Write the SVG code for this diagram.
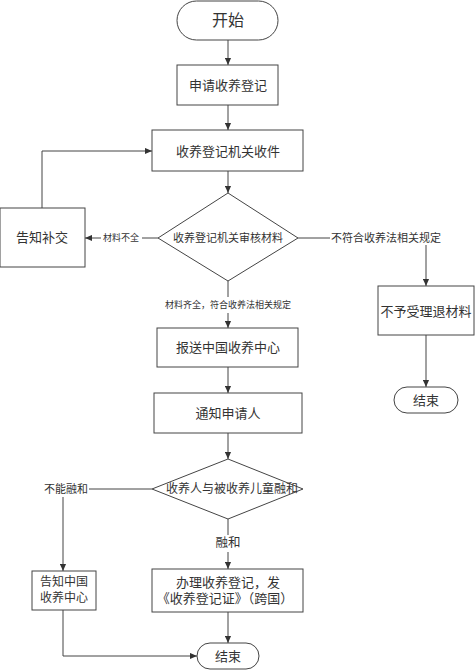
<svg xmlns="http://www.w3.org/2000/svg" width="475" height="670" viewBox="0 0 475 670">
<style>
.s{fill:#fff;stroke:#444;stroke-width:1}
.c{fill:none;stroke:#444;stroke-width:1}
text{font-family:"Liberation Serif","Noto Sans CJK SC",serif;fill:#333;text-anchor:middle;dominant-baseline:central}
.lb{fill:#fff;stroke:none}
</style>
<defs>
<marker id="a" viewBox="0 0 8 8" refX="8" refY="4" markerWidth="7" markerHeight="7" orient="auto" markerUnits="userSpaceOnUse">
<path d="M0,0.5 L8,4 L0,7.5 Z" fill="#333"/>
</marker>
</defs>
<g id="connectors">
<path class="c" d="M228,40 V65" marker-end="url(#a)"/>
<path class="c" d="M228,105 V130" marker-end="url(#a)"/>
<path class="c" d="M228,171 V193" marker-end="url(#a)"/>
<path class="c" d="M42,208 V151 H152" marker-end="url(#a)"/>
<path class="c" d="M158,238 H142 M101,238 H85" marker-end="url(#a)"/>
<path class="c" d="M298,238 H330"/>
<path class="c" d="M426,245 V286" marker-end="url(#a)"/>
<path class="c" d="M426,335 V387" marker-end="url(#a)"/>
<path class="c" d="M228,281 V297 M228,313 V328" marker-end="url(#a)"/>
<path class="c" d="M228,367 V393" marker-end="url(#a)"/>
<path class="c" d="M228,433 V459" marker-end="url(#a)"/>
<path class="c" d="M152,489 H89"/>
<path class="c" d="M63,497 V571" marker-end="url(#a)"/>
<path class="c" d="M228,519 V535 M228,552 V569" marker-end="url(#a)"/>
<path class="c" d="M228,612 V643" marker-end="url(#a)"/>
<path class="c" d="M63,610 V656 H197" marker-end="url(#a)"/>
<text x="121" y="238" font-size="9">材料不全</text>
<text x="386" y="238" font-size="11">不符合收养法相关规定</text>
<text x="228" y="305" font-size="9">材料齐全，符合收养法相关规定</text>
<text x="66" y="489" font-size="11">不能融和</text>
<text x="228" y="543" font-size="12.5">融和</text>
</g>
<g id="start"><rect class="s" x="177" y="1" width="101" height="39" rx="19.5"/><text x="228" y="20" font-size="16">开始</text></g>
<g id="apply"><rect class="s" x="177" y="65" width="101" height="40"/><text x="228" y="85" font-size="13">申请收养登记</text></g>
<g id="receive"><rect class="s" x="152" y="130" width="151" height="41"/><text x="228" y="151" font-size="13">收养登记机关收件</text></g>
<g id="review"><polygon class="s" points="228,193 298,238 228,281 158,238"/><text x="228" y="238" font-size="11">收养登记机关审核材料</text></g>
<g id="supplement"><rect class="s" x="0" y="208" width="85" height="59"/><text x="42" y="237" font-size="13">告知补交</text></g>
<g id="reject"><rect class="s" x="378" y="286" width="96" height="49"/><text x="426" y="311" font-size="13">不予受理退材料</text></g>
<g id="end1"><rect class="s" x="394" y="387" width="64" height="26" rx="13"/><text x="426" y="400" font-size="13">结束</text></g>
<g id="report"><rect class="s" x="157" y="328" width="141" height="39"/><text x="228" y="347" font-size="13">报送中国收养中心</text></g>
<g id="notify"><rect class="s" x="154" y="393" width="148" height="40"/><text x="228" y="413" font-size="13">通知申请人</text></g>
<g id="fit"><polygon class="s" points="228,459 303,489 228,519 152,489"/><text x="232" y="489" font-size="12">收养人与被收养儿童融和</text></g>
<g id="informcenter"><rect class="s" x="32" y="571" width="64" height="39"/><text x="64" y="582" font-size="12">告知中国</text><text x="64" y="598" font-size="12">收养中心</text></g>
<g id="register"><rect class="s" x="152" y="569" width="151" height="43"/><text x="228" y="582" font-size="13">办理收养登记，发</text><text x="225" y="598" font-size="13">《收养登记证》（跨国）</text></g>
<g id="end2"><rect class="s" x="197" y="643" width="62" height="26" rx="13"/><text x="228" y="656" font-size="13">结束</text></g>
</svg>
